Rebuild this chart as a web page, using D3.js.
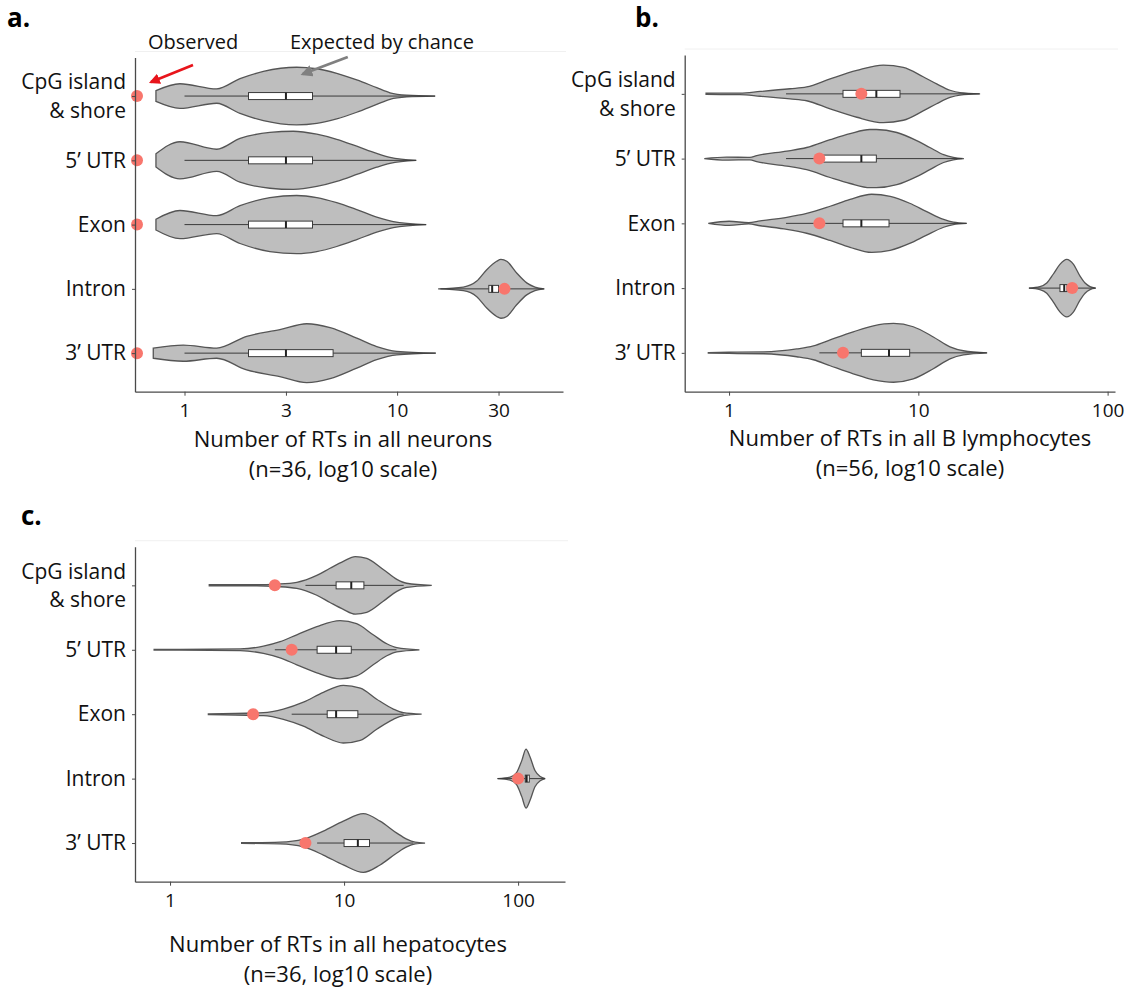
<!DOCTYPE html>
<html><head><meta charset="utf-8">
<script src="https://cdn.jsdelivr.net/npm/d3@7"></script>
<style>
body{margin:0;background:#fff;}
svg{display:block;font-family:"Open Sans",sans-serif;}
</style></head><body>
<svg id="chart" width="1140" height="994"></svg>
<script>
// ---------- data ----------
const categories = ["CpG island\n& shore", "5’ UTR", "Exon", "Intron", "3’ UTR"];

const ticksA = [1, 3, 10, 30];
const ticksB = [1, 10, 100];
const ticksC = [1, 10, 100];

const domainA = [0.585, 60.3];
const domainB = [0.583, 109.4];
const domainC = [0.629, 186];

// violin outlines: [value, relative density] per category (order = categories)
const violinA = [
  [[0.734,0.18],[0.952,0.41],[1.417,0.24],[1.824,0.58],[2.35,0.82],[3.37,0.96],[4.19,0.91],[5.2,0.76],[6.46,0.54],[8.02,0.28],[9.26,0.11],[11.1,0.03],[15.1,0]],
  [[0.734,0.22],[0.952,0.62],[1.417,0.37],[1.824,0.73],[2.52,0.93],[3.25,0.97],[4.19,0.87],[5.2,0.7],[6.46,0.47],[8.02,0.23],[9.26,0.1],[12.3,0]],
  [[0.734,0.18],[0.952,0.47],[1.417,0.3],[1.824,0.63],[2.52,0.9],[3.37,0.97],[4.19,0.9],[5.2,0.73],[6.46,0.5],[8.02,0.25],[9.6,0.1],[13.7,0]],
  [[15.6,0],[20.5,0.06],[23.7,0.26],[26.4,0.64],[29.4,0.92],[30.8,0.98],[32.8,0.92],[36.5,0.53],[40.7,0.2],[44.5,0.06],[49.3,0]],
  [[0.713,0.17],[0.987,0.27],[1.417,0.17],[1.96,0.56],[2.81,0.78],[3.76,0.98],[4.84,0.85],[6.46,0.5],[8.02,0.22],[9.96,0.06],[15.2,0]]
];
const violinB = [
  [[0.756,0.02],[1.14,0.025],[1.46,0.08],[2.1,0.17],[2.57,0.23],[3.42,0.5],[4.73,0.78],[6.53,0.96],[8.33,0.88],[10.6,0.57],[12.5,0.33],[14.7,0.12],[16.6,0.04],[21.2,0]],
  [[0.74,0],[0.97,0.05],[1.29,0.04],[1.4,0.1],[2.02,0.25],[2.57,0.37],[3.42,0.63],[4.36,0.83],[5.55,0.97],[6.0,0.97],[7.7,0.87],[9.8,0.6],[11.5,0.37],[13.6,0.13],[15.3,0.04],[17.4,0]],
  [[0.777,0],[1.0,0.07],[1.27,0.02],[1.46,0.08],[2.02,0.2],[2.57,0.33],[3.42,0.57],[4.36,0.8],[5.67,0.97],[7.1,0.9],[9.0,0.67],[11.0,0.4],[13.6,0.13],[15.3,0.04],[18.0,0]],
  [[38.4,0],[43.9,0.05],[47.7,0.17],[51.7,0.47],[56.1,0.8],[60.8,0.96],[65.9,0.8],[71.5,0.4],[76,0.17],[80.7,0.05],[86.5,0]],
  [[0.777,0.01],[1.0,0.02],[1.52,0.03],[2.28,0.13],[2.79,0.23],[3.42,0.43],[4.53,0.7],[5.79,0.9],[7.39,0.98],[9.4,0.87],[12.0,0.53],[14.7,0.2],[17.3,0.07],[23.1,0]]
];
const violinC = [
  [[1.68,0.02],[3.15,0.02],[4.1,0.04],[5.35,0.1],[6.97,0.33],[8.3,0.57],[9.9,0.8],[11.6,0.96],[13.5,0.9],[16.8,0.53],[20.1,0.2],[22.9,0.07],[31.9,0]],
  [[0.81,0.01],[2.53,0.03],[3.44,0.12],[4.29,0.27],[5.35,0.5],[6.97,0.77],[9.48,0.97],[11.8,0.87],[14.7,0.5],[17.6,0.2],[20.1,0.07],[27.1,0]],
  [[1.66,0.01],[3.44,0.05],[4.48,0.17],[5.84,0.4],[7.6,0.73],[9.9,0.96],[12.4,0.87],[15.4,0.5],[19.2,0.17],[21.9,0.05],[27.9,0]],
  [[76.4,0],[90,0.05],[98,0.2],[105,0.6],[111,0.98],[117,0.73],[125,0.27],[134,0.07],[143,0]],
  [[2.58,0.01],[4.29,0.03],[5.84,0.13],[7.6,0.4],[9.9,0.73],[12.9,0.98],[16.1,0.73],[20.1,0.33],[22.9,0.13],[25.6,0.03],[29.2,0]]
];

// boxplot: [q1, median, q3]
const boxA = [[2,3,4],[2,3,4],[2,3,4],[27,28,30],[2,3,5]];
const boxB = [[4,6,8],[3,5,6],[4,5,7],[56,59,61],[5,7,9]];
const boxC = [[9,11,13],[7,9,11],[8,9,12],[110,112,116],[10,12,14]];

// whiskers: [low, high]
const whiskA = [[1,15.1],[1,12.3],[1,13.7],[16,49],[1,15.2]];
const whiskB = [[2,21],[2,17],[2,18],[38.4,86.5],[3,23]];
const whiskC = [[6,22],[4,20],[5,22],[76,143],[7,25]];

// observed counts (0 = plotted at the axis edge, as -Inf on a log scale)
const observedA = [0, 0, 0, 32, 0];
const observedB = [5, 3, 3, 65, 4];
const observedC = [4, 5, 3, 100, 6];

// ---------- drawing ----------
const svg = d3.select("#chart");
const VIOLIN_FILL = "#bebebe", VIOLIN_STROKE = "#555555", DOT = "#F8766D";

function panel(cfg) {
  const g = svg.append("g");
  const x = d3.scaleLog().domain(cfg.domain).range([cfg.left, cfg.right]);
  const y = d3.scalePoint().domain(categories).range([cfg.top, cfg.bottom]).padding(0.6);
  const w = d3.scaleLinear().domain([0, 1]).range([0, 30]);
  const px = v => v > 0 ? x(v) : x.range()[0] + 2;

  // faint plot-region top edge
  g.append("line").attr("x1", cfg.left).attr("x2", cfg.right + 3)
    .attr("y1", cfg.top - 6).attr("y2", cfg.top - 6)
    .attr("stroke", "#f0f0f0").attr("stroke-width", 1);

  categories.forEach((c, i) => {
    const cy = y(c);
    const area = d3.area()
      .x(d => x(d[0]))
      .y0(d => cy - w(d[1]))
      .y1(d => cy + w(d[1]))
      .curve(d3.curveMonotoneX);
    g.append("path").attr("d", area(cfg.violins[i]))
      .attr("fill", VIOLIN_FILL).attr("stroke", VIOLIN_STROKE).attr("stroke-width", 1.3);
    const [wl, wh] = cfg.whisk[i];
    g.append("line").attr("x1", x(wl)).attr("x2", x(wh)).attr("y1", cy).attr("y2", cy)
      .attr("stroke", "#3a3a3a").attr("stroke-width", 1);
    const [q1, md, q3] = cfg.box[i];
    g.append("rect").attr("x", x(q1)).attr("y", cy - 3.5)
      .attr("width", x(q3) - x(q1)).attr("height", 7)
      .attr("fill", "#fff").attr("stroke", "#3a3a3a").attr("stroke-width", 1);
    g.append("line").attr("x1", x(md)).attr("x2", x(md)).attr("y1", cy - 3.5).attr("y2", cy + 3.5)
      .attr("stroke", "#222").attr("stroke-width", 2);
    g.append("circle").attr("cx", px(cfg.observed[i])).attr("cy", cy).attr("r", 6)
      .attr("fill", DOT);
  });

  // axes
  const xa = g.append("g").attr("transform", `translate(0,${cfg.bottom})`)
    .call(d3.axisBottom(x).tickValues(cfg.ticks).tickFormat(d3.format("d"))
      .tickSize(4).tickSizeOuter(0).tickPadding(8));
  xa.select(".domain").attr("stroke", "#4a4a4a").attr("stroke-width", 1.3);
  xa.selectAll(".tick line").attr("stroke", "#4a4a4a");
  xa.selectAll("text").attr("font-size", 19).attr("fill", "#111")
    .attr("font-family", '"Open Sans",sans-serif');

  const ya = g.append("g").attr("transform", `translate(${cfg.left},0)`)
    .call(d3.axisLeft(y).tickSize(3).tickSizeOuter(0).tickPadding(6));
  ya.select(".domain").attr("stroke", "#4a4a4a").attr("stroke-width", 1.3);
  ya.selectAll(".tick line").attr("stroke", "#4a4a4a");
  ya.selectAll("text").attr("font-size", 21).attr("fill", "#111")
    .attr("font-family", '"Open Sans",sans-serif')
    .each(function(d) {
      const lines = d.split("\n");
      if (lines.length > 1) {
        const t = d3.select(this).text("").attr("dy", null);
        lines.forEach((ln, k) => {
          t.append("tspan").attr("x", -9).attr("dy", k === 0 ? "-0.35em" : "1.38em").text(ln);
        });
      }
    });

  // title (two separate lines)
  cfg.title.forEach((ln, k) => {
    g.append("text").attr("text-anchor", "middle").attr("font-size", 22).attr("fill", "#111")
      .attr("x", cfg.titleX).attr("y", cfg.titleY + k * 30).text(ln);
  });
  g.append("text").attr("x", cfg.letterX).attr("y", cfg.letterY)
    .attr("font-size", 26).attr("font-weight", "bold").attr("fill", "#000").text(cfg.letter);
  return {x, y};
}

const A = panel({left: 135, right: 563, top: 57.5, bottom: 391.7, domain: domainA, ticks: ticksA,
  violins: violinA, box: boxA, whisk: whiskA, observed: observedA,
  title: ["Number of RTs in all neurons", "(n=36, log10 scale)"], titleX: 343, titleY: 447,
  letter: "a.", letterX: 7, letterY: 27});
panel({left: 684.7, right: 1115, top: 55, bottom: 391.7, domain: domainB, ticks: ticksB,
  violins: violinB, box: boxB, whisk: whiskB, observed: observedB,
  title: ["Number of RTs in all B lymphocytes", "(n=56, log10 scale)"], titleX: 910, titleY: 446,
  letter: "b.", letterX: 635, letterY: 27});
panel({left: 135, right: 565, top: 546.7, bottom: 881.7, domain: domainC, ticks: ticksC,
  violins: violinC, box: boxC, whisk: whiskC, observed: observedC,
  title: ["Number of RTs in all hepatocytes", "(n=36, log10 scale)"], titleX: 338, titleY: 952,
  letter: "c.", letterX: 21, letterY: 525});

// annotations on panel a
const cy0 = A.y(categories[0]);
const defs = svg.append("defs");
[["headRed", "#e8141b"], ["headGray", "#808080"]].forEach(([id, col]) => {
  defs.append("marker").attr("id", id).attr("viewBox", "0 0 10 10").attr("refX", 8).attr("refY", 5)
    .attr("markerWidth", 4.2).attr("markerHeight", 4.2).attr("orient", "auto")
    .append("path").attr("d", "M0,0L10,5L0,10z").attr("fill", col);
});
const redTip = [A.x.range()[0] + 16, cy0 - 14];
svg.append("line").attr("x1", redTip[0] + 42).attr("y1", redTip[1] - 17)
  .attr("x2", redTip[0]).attr("y2", redTip[1])
  .attr("stroke", "#e8141b").attr("stroke-width", 2.6).attr("marker-end", "url(#headRed)");
const grayTip = [A.x(3.6), cy0 - 22];
svg.append("line").attr("x1", grayTip[0] + 45).attr("y1", grayTip[1] - 17)
  .attr("x2", grayTip[0]).attr("y2", grayTip[1])
  .attr("stroke", "#808080").attr("stroke-width", 2.8).attr("marker-end", "url(#headGray)");
svg.append("text").attr("x", 148).attr("y", 49).attr("font-size", 20).attr("fill", "#111").text("Observed");
svg.append("text").attr("x", 290).attr("y", 49).attr("font-size", 20).attr("fill", "#111").text("Expected by chance");
</script>
</body></html>
